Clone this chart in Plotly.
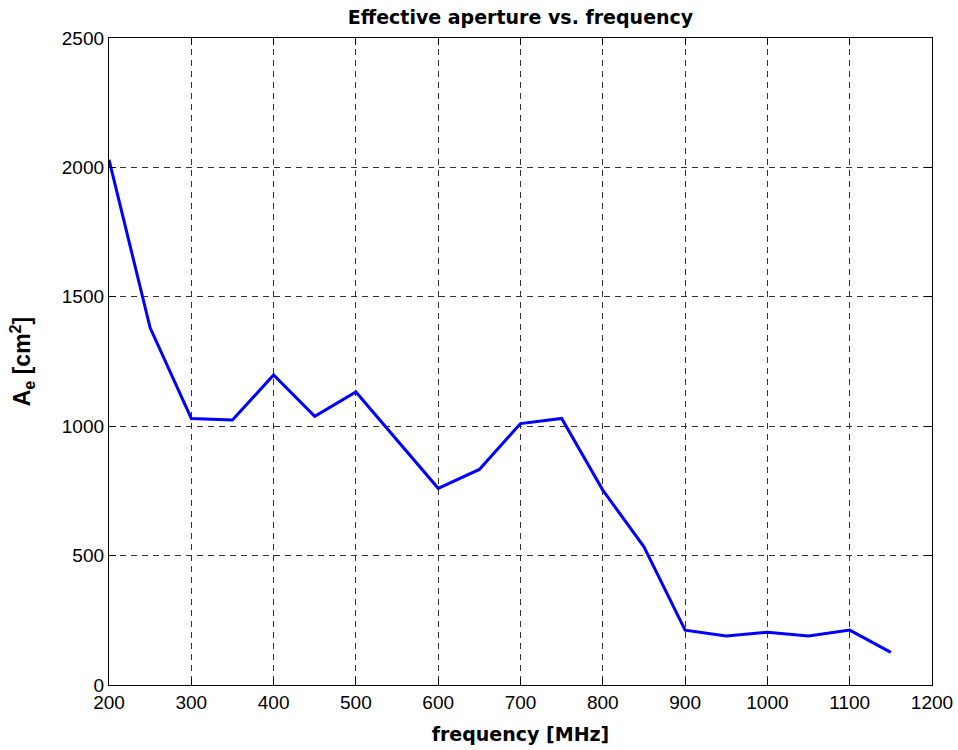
import plotly.graph_objects as go

freq_mhz = [200, 250, 300, 350, 400, 450, 500, 550, 600, 650, 700, 750,
            800, 850, 900, 950, 1000, 1050, 1100, 1150]
aperture_cm2 = [2030, 1380, 1030, 1024, 1198, 1038, 1132, 945, 760, 833, 1010, 1030,
                753, 534, 212, 189, 204, 189, 212, 126]

x_ticks = [200, 300, 400, 500, 600, 700, 800, 900, 1000, 1100, 1200]
y_ticks = [0, 500, 1000, 1500, 2000, 2500]

fig = go.Figure()
fig.add_trace(go.Scatter(x=freq_mhz, y=aperture_cm2, mode="lines",
                         line=dict(color="#0000ff", width=3), showlegend=False))

axis_common = dict(showline=True, linecolor="black", linewidth=1.3, mirror="ticks",
                   ticks="inside", ticklen=7, tickcolor="black", tickwidth=1,
                   showgrid=True, gridcolor="#333333", griddash="6px,5px", gridwidth=1,
                   zeroline=False, automargin=False,
                   tickfont=dict(family="Liberation Sans, Arial, sans-serif", size=19, color="black"))

fig.update_layout(
    width=958, height=750,
    margin=dict(l=109, r=26, t=38, b=65),
    paper_bgcolor="white", plot_bgcolor="white",
    title=dict(text="<b>Effective aperture vs. frequency</b>", x=(109 + 932) / 2 / 958, xanchor="center",
               y=1 - 17 / 750, yanchor="middle",
               font=dict(family="DejaVu Sans, sans-serif", size=19, color="black")),
    xaxis=dict(range=[200, 1200], tickvals=x_ticks, ticktext=[str(v) for v in x_ticks],
               title=dict(text="<b>frequency [MHz]</b>", standoff=15,
                          font=dict(family="DejaVu Sans, sans-serif", size=19, color="black")),
               **axis_common),
    yaxis=dict(range=[0, 2500], tickvals=y_ticks, ticktext=[str(v) for v in y_ticks],
               title=dict(text="<b>A<sub>e</sub> [cm<sup>2</sup>]</b>", standoff=24,
                          font=dict(family="Liberation Sans, Arial, sans-serif", size=23, color="black")),
               **axis_common),
)

fig.write_html("out.html")
